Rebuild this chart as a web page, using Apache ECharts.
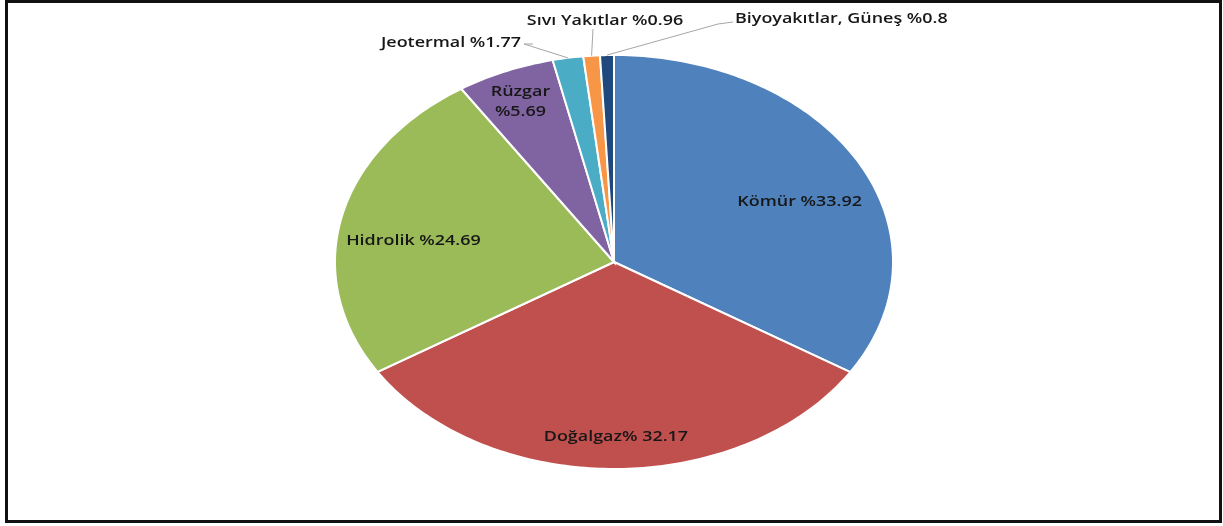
<!DOCTYPE html>
<html>
<head>
<meta charset="utf-8">
<script src="https://cdn.jsdelivr.net/npm/echarts@6/dist/echarts.min.js"></script>
<style>
  html, body { margin: 0; padding: 0; background: #fff; }
  #container { width: 1223px; height: 526px; }
</style>
</head>
<body>
<div id="container"></div>
<script>
var categories = ['Kömür', 'Doğalgaz', 'Hidrolik', 'Rüzgar', 'Jeotermal', 'Sıvı Yakıtlar', 'Biyoyakıtlar, Güneş'];
var values = [33.92, 32.17, 24.69, 5.69, 1.77, 0.96, 0.8];
var labels = ['Kömür %33.92', 'Doğalgaz% 32.17', 'Hidrolik %24.69', 'Rüzgar\n%5.69',
              'Jeotermal %1.77', 'Sıvı Yakıtlar %0.96', 'Biyoyakıtlar, Güneş %0.8'];
var colors = ['#4F81BD', '#C0504D', '#9BBB59', '#8064A2', '#4BACC6', '#F79646', '#1F497D'];

var dom = document.getElementById('container');
var myChart = echarts.init(dom);

// ellipse geometry (the original picture is a stretched Excel pie)
var cx = 614, cy = 262, rx = 279, ry = 207;
var stretch = 1.28; // horizontal stretch of the text too
var total = values.reduce(function (a, b) { return a + b; }, 0);
var cum = [0];
for (var i = 0; i < values.length; i++) cum.push(cum[i] + values[i]);

// label placement: inside labels use radius fraction, outside ones get a text anchor
var labelLayout = [
    { f: 0.74, dx: 5, dy: 14 },
    { f: 0.845, dx: 2, dy: 0 },
    { f: 0.78, dx: 12, dy: 14 },
    { f: 0.86, dy: 4 },
    { out: true, x: 521, y: 43, align: 'right', bend: [[524, 44], [533, 44]] },
    { out: true, x: 605, y: 21, align: 'center', bend: [[593, 29]] },
    { out: true, x: 735, y: 19, align: 'left', bend: [[718, 24], [733, 22]] }
];

function pt(theta, f) {
    return [cx + rx * f * Math.sin(theta), cy - ry * f * Math.cos(theta)];
}

function renderItem(params, api) {
    var idx = params.dataIndex;
    var a0 = cum[idx] / total * Math.PI * 2;
    var a1 = cum[idx + 1] / total * Math.PI * 2;
    var pts = [[cx, cy]];
    var n = Math.max(4, Math.ceil((a1 - a0) * 180 / Math.PI));
    for (var k = 0; k <= n; k++) {
        pts.push(pt(a0 + (a1 - a0) * k / n, 1));
    }
    var children = [{
        type: 'polygon',
        shape: { points: pts },
        style: { fill: colors[idx], stroke: '#fff', lineWidth: 2 }
    }];
    var lay = labelLayout[idx];
    var mid = (a0 + a1) / 2;
    var tx, ty, align;
    if (!lay.out) {
        var p = pt(mid, lay.f);
        tx = p[0] + (lay.dx || 0);
        ty = p[1] + (lay.dy || 0);
        align = 'center';
    } else {
        var edge = pt(mid, 1.0);
        children.push({
            type: 'polyline',
            shape: { points: [edge].concat(lay.bend) },
            style: { stroke: '#a6a6a6', lineWidth: 1, fill: null },
            z2: 5
        });
        tx = lay.x;
        ty = lay.y;
        align = lay.align;
    }
    children.push({
        type: 'text',
        x: tx,
        y: ty,
        scaleX: stretch,
        z2: 10,
        style: {
            x: 0,
            y: 0,
            text: labels[idx],
            fill: '#171717',
            fontFamily: '"Open Sans", sans-serif',
            fontWeight: 600,
            fontSize: 14,
            lineHeight: 20,
            align: align,
            verticalAlign: 'middle'
        }
    });
    return { type: 'group', children: children };
}

var option = {
    animation: false,
    backgroundColor: '#fff',
    graphic: [{
        type: 'rect',
        shape: { x: 6.5, y: 1.5, width: 1214, height: 520 },
        style: { fill: 'none', stroke: '#111', lineWidth: 3 }
    }],
    series: [{
        type: 'custom',
        name: 'Elektrik üretimi',
        coordinateSystem: 'none',
        data: values,
        renderItem: renderItem
    }]
};

myChart.setOption(option);
</script>
</body>
</html>
